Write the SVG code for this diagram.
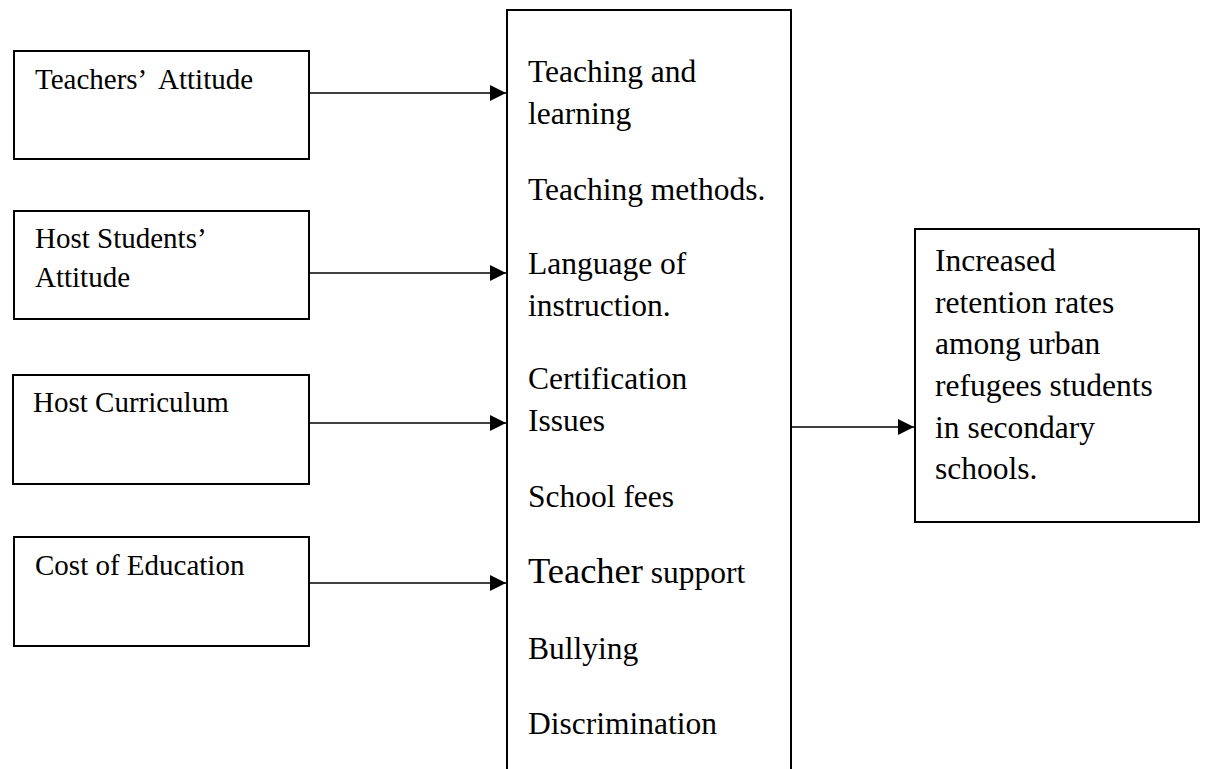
<svg xmlns="http://www.w3.org/2000/svg" width="1206" height="769" viewBox="0 0 1206 769">
<style>
  .box { fill: #ffffff; stroke: #000000; stroke-width: 2; }
  .conn { stroke: #000000; stroke-width: 1.6; fill: none; }
  .t { font-family: "Liberation Serif", "Times New Roman", serif; fill: #000000; }
  .s29 { font-size: 29px; }
  .s31 { font-size: 31.5px; }
  .s36 { font-size: 36.5px; }
</style>
<defs>
  <marker id="arrow" markerUnits="userSpaceOnUse" markerWidth="16" markerHeight="16" viewBox="0 0 16 16" refX="16" refY="8" orient="auto">
    <path d="M0,0 L16,8 L0,16 z" fill="#000000"/>
  </marker>
</defs>
<rect width="1206" height="769" fill="#ffffff"/>

<g id="node-teachers-attitude">
  <rect class="box" x="14" y="51" width="295" height="108"/>
  <text class="t s29" x="35" y="89" xml:space="preserve">Teachers’  Attitude</text>
</g>

<g id="node-host-students-attitude">
  <rect class="box" x="14" y="211" width="295" height="108"/>
  <text class="t s29" x="35" y="248">Host Students’</text>
  <text class="t s29" x="35" y="287">Attitude</text>
</g>

<g id="node-host-curriculum">
  <rect class="box" x="13" y="375" width="296" height="109"/>
  <text class="t s29" x="33" y="412">Host Curriculum</text>
</g>

<g id="node-cost-of-education">
  <rect class="box" x="14" y="537" width="295" height="109"/>
  <text class="t s29" x="35" y="575">Cost of Education</text>
</g>

<g id="node-middle">
  <rect class="box" x="507" y="10" width="284" height="775"/>
  <text class="t s31" x="528" y="82">Teaching and</text>
  <text class="t s31" x="528" y="124">learning</text>
  <text class="t s31" x="528" y="200">Teaching methods.</text>
  <text class="t s31" x="528" y="274">Language of</text>
  <text class="t s31" x="528" y="316">instruction.</text>
  <text class="t s31" x="528" y="389">Certification</text>
  <text class="t s31" x="528" y="431">Issues</text>
  <text class="t s31" x="528" y="507">School fees</text>
  <text class="t s31" x="528" y="583"><tspan class="s36">Teacher</tspan> support</text>
  <text class="t s31" x="528" y="659">Bullying</text>
  <text class="t s31" x="528" y="734">Discrimination</text>
</g>

<g id="node-outcome">
  <rect class="box" x="915" y="229" width="284" height="293"/>
  <text class="t s31" x="935" y="271">Increased</text>
  <text class="t s31" x="935" y="313">retention rates</text>
  <text class="t s31" x="935" y="354">among urban</text>
  <text class="t s31" x="935" y="396">refugees students</text>
  <text class="t s31" x="935" y="438">in secondary</text>
  <text class="t s31" x="935" y="479">schools.</text>
</g>

<g id="connectors">
  <line class="conn" x1="309" y1="93" x2="506" y2="93" marker-end="url(#arrow)"/>
  <line class="conn" x1="309" y1="273" x2="506" y2="273" marker-end="url(#arrow)"/>
  <line class="conn" x1="309" y1="423" x2="506" y2="423" marker-end="url(#arrow)"/>
  <line class="conn" x1="309" y1="583" x2="506" y2="583" marker-end="url(#arrow)"/>
  <line class="conn" x1="791" y1="427" x2="914" y2="427" marker-end="url(#arrow)"/>
</g>
</svg>
